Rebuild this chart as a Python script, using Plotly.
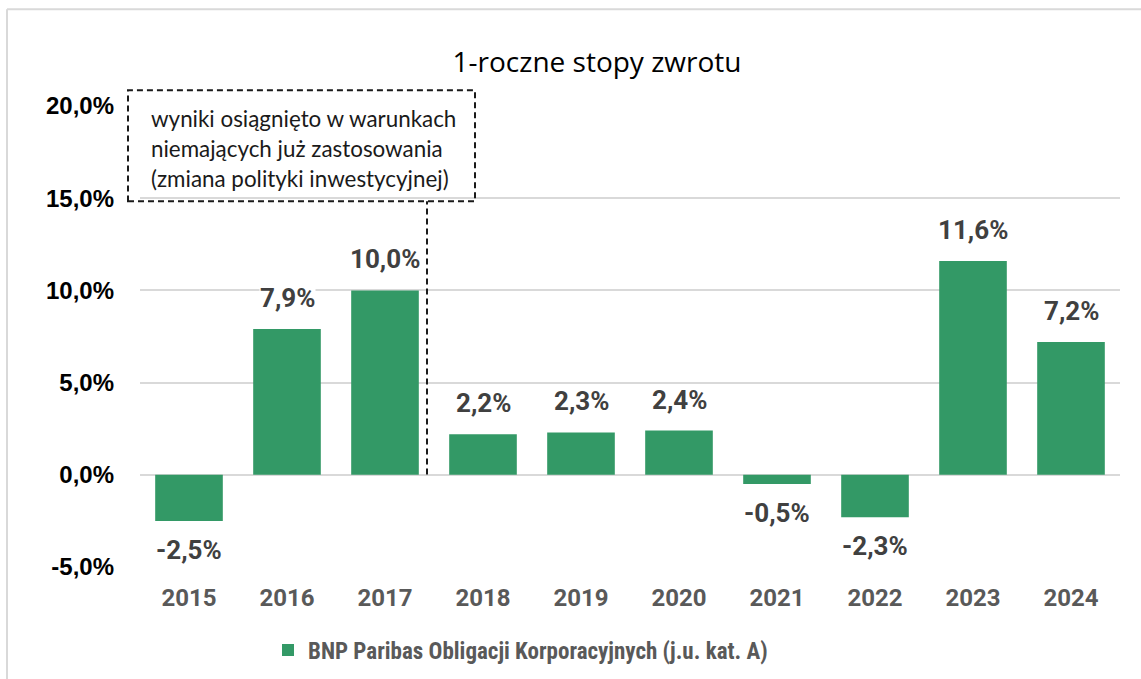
import plotly.graph_objects as go

years = ["2015", "2016", "2017", "2018", "2019", "2020", "2021", "2022", "2023", "2024"]
returns = [-2.5, 7.9, 10.0, 2.2, 2.3, 2.4, -0.5, -2.3, 11.6, 7.2]
y_ticks = [-5, 0, 5, 10, 15, 20]
y_tick_text = ["-5,0%", "0,0%", "5,0%", "10,0%", "15,0%", "20,0%"]
series_name = "BNP Paribas Obligacji Korporacyjnych (j.u. kat. A)"
title_text = "1-roczne stopy zwrotu"
note_lines = ["wyniki osiągnięto w warunkach", "niemających już zastosowania", "(zmiana polityki inwestycyjnej)"]

GREEN = "#339966"
GRID = "#d9d9d9"

def fmt(v):
    return f"{v:.1f}".replace(".", ",") + "%"

fig = go.Figure()
fig.add_trace(go.Bar(
    x=years, y=returns, name=series_name,
    marker=dict(color=GREEN, line=dict(width=0)),
    width=0.69, showlegend=True,
))

# data labels (x given as category index)
for i, v in enumerate(returns):
    fig.add_annotation(
        x=i, y=v, xref="x", yref="y", text=fmt(v), showarrow=False,
        yanchor="middle", yshift=31 if v >= 0 else -29,
        font=dict(family="Roboto", size=26, color="#404040", weight="bold"),
        bgcolor="white", borderpad=0,
    )

# note box text
note_y = [118, 148, 178]
for line, py in zip(note_lines, note_y):
    fig.add_annotation(
        x=(149 - 140) / 980, y=(567 - py) / 461.3, xref="paper", yref="paper",
        text=line, showarrow=False, xanchor="left", yanchor="middle",
        font=dict(family="Lato", size=22.4, color="#1a1a1a"),
    )

# dashed box
fig.add_shape(type="rect", xref="paper", yref="paper",
              x0=(128 - 140) / 980, x1=(475 - 140) / 980,
              y0=(567 - 201) / 461.3, y1=(567 - 90) / 461.3,
              line=dict(color="#1a1a1a", width=2, dash="6px,4px"), fillcolor="rgba(0,0,0,0)")
# dashed vertical line
fig.add_shape(type="line", xref="paper", yref="paper",
              x0=(427 - 140) / 980, x1=(427 - 140) / 980,
              y0=(567 - 474.5) / 461.3, y1=(567 - 201) / 461.3,
              line=dict(color="#1a1a1a", width=2, dash="6px,4px"))
# chart border (left & top)
fig.add_shape(type="line", xref="paper", yref="paper",
              x0=(7 - 140) / 980, x1=(7 - 140) / 980, y0=(567 - 690) / 461.3, y1=(567 - 9) / 461.3,
              line=dict(color=GRID, width=2))
fig.add_shape(type="line", xref="paper", yref="paper",
              x0=(7 - 140) / 980, x1=(1150 - 140) / 980, y0=(567 - 9) / 461.3, y1=(567 - 9) / 461.3,
              line=dict(color=GRID, width=2))

fig.update_layout(
    width=1141, height=679,
    margin=dict(l=140, r=21, t=106, b=112),
    paper_bgcolor="white", plot_bgcolor="white",
    title=dict(text=title_text, x=597 / 1141, xref="container", xanchor="center",
               y=1 - 62 / 679, yref="container", yanchor="middle",
               font=dict(family="Open Sans", size=28, color="black")),
    bargap=0.31,
    legend=dict(orientation="h", x=520.5 / 1141, xanchor="center", xref="container",
                y=1 - 650 / 679, yref="container", yanchor="middle",
                font=dict(family="Liberation Sans Narrow, Roboto Condensed, Roboto", size=23, color="#595959", weight="bold"),
                itemwidth=30),
    showlegend=True,
)
fig.update_yaxes(range=[-5, 20], tickvals=y_ticks, ticktext=y_tick_text,
                 showgrid=True, gridcolor=GRID, gridwidth=2,
                 zeroline=True, zerolinecolor=GRID, zerolinewidth=2,
                 showline=False, ticks="", ticklabelstandoff=25,
                 tickfont=dict(family="Liberation Sans", size=24, color="black", weight="bold"))
fig.update_xaxes(type="category", range=[-0.5, len(years) - 0.5], autorange=False,
                 showgrid=False, showline=False, ticks="", ticklabelstandoff=14,
                 tickfont=dict(family="Roboto", size=24, color="#595959", weight="bold"))

fig.write_html("out.html")
